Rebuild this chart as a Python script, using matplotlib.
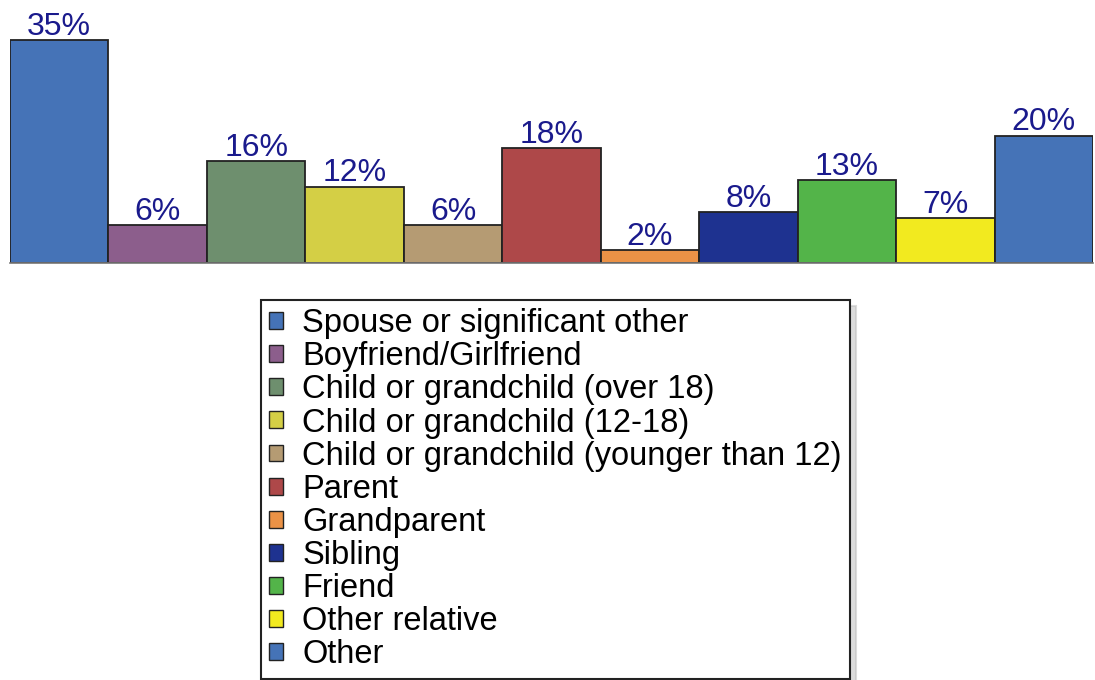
import matplotlib.pyplot as plt
from matplotlib.patches import Patch

plt.rcParams['font.family'] = ['Liberation Sans', 'DejaVu Sans']

# Who the respondent lives with (percent)
categories = [
    "Spouse or significant other",
    "Boyfriend/Girlfriend",
    "Child or grandchild (over 18)",
    "Child or grandchild (12-18)",
    "Child or grandchild (younger than 12)",
    "Parent",
    "Grandparent",
    "Sibling",
    "Friend",
    "Other relative",
    "Other",
]
values = [35, 6, 16, 12, 6, 18, 2, 8, 13, 7, 20]
colors = ["#4573B7", "#8C5E8C", "#6E8F6E", "#D4CF45", "#B59B73", "#AE4849",
          "#EB9246", "#1E3290", "#53B449", "#F2EA1F", "#4573B7"]

fig = plt.figure(figsize=(10.95, 6.8), dpi=100)
ax = fig.add_axes([10 / 1095, 1 - 263 / 680, 1083 / 1095, 263 / 680])

x = range(len(values))
ax.bar(x, values, width=1.0, color=colors, edgecolor="#222222", linewidth=1.3)
ax.set_xlim(-0.5, len(values) - 0.5)
ax.set_ylim(0, 35 * 263 / 223)

for i, v in enumerate(values):
    ax.text(i, v + 0.8, f"{v}%", ha="center", va="baseline",
            fontsize=23, color="#1a1a8c")

for side in ["top", "left", "right"]:
    ax.spines[side].set_visible(False)
ax.spines["bottom"].set_color("#777777")
ax.spines["bottom"].set_linewidth(1.2)
ax.set_xticks([])
ax.set_yticks([])

handles = [Patch(facecolor=c, edgecolor="#222222", linewidth=1.0) for c in colors]
leg = fig.legend(handles, categories, loc="upper left",
                 bbox_to_anchor=(261 / 1095, 1 - 300 / 680), borderaxespad=0,
                 fontsize=23.5, frameon=True, fancybox=False,
                 shadow={"color": "#bbbbbb", "ox": 4, "oy": -4},
                 edgecolor="#222222", handlelength=0.42, handleheight=0.42,
                 handletextpad=0.6, labelspacing=0.065, borderpad=0.25)
leg.get_frame().set_linewidth(1.5)

fig.savefig("out.png", dpi=100)
